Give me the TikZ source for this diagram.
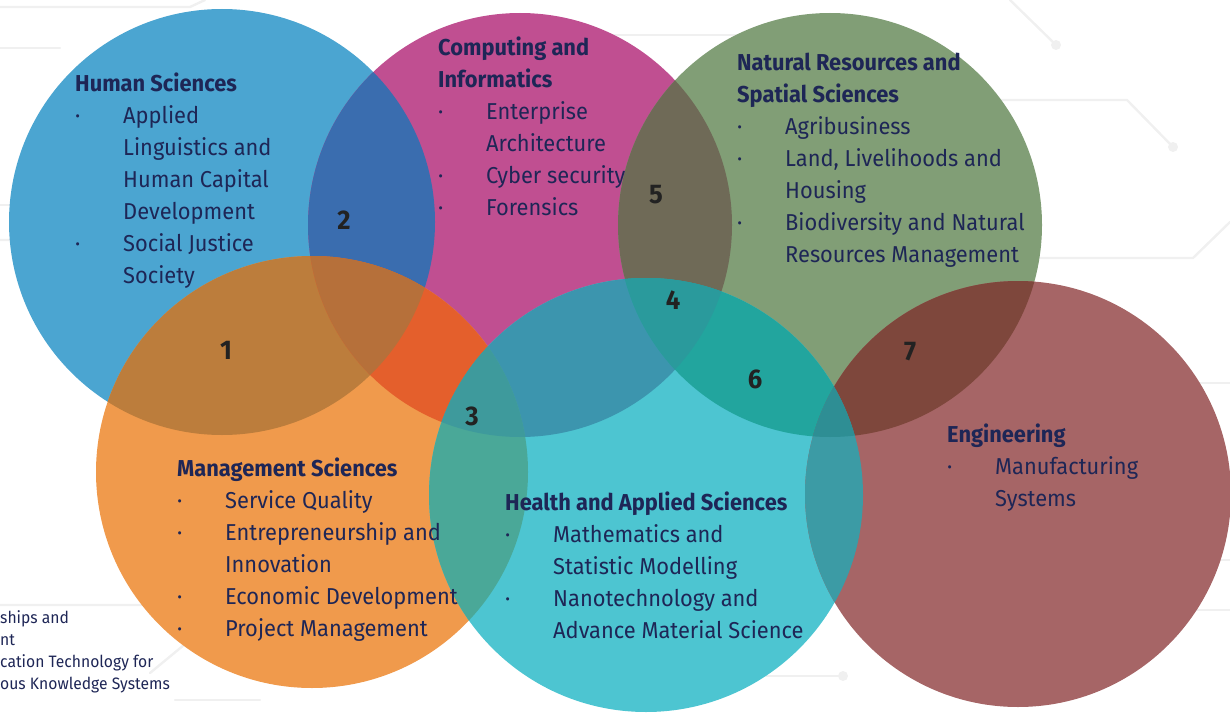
\documentclass[tikz,border=0pt]{standalone}
\usepackage{fontspec}
\setmainfont{Fira Sans}[FakeStretch=0.95]
\usetikzlibrary{positioning}
\definecolor{navy}{HTML}{1E2656}
\definecolor{numgray}{HTML}{222222}
\definecolor{traceg}{HTML}{F0F0F0}
% circle colours
\definecolor{cHum}{HTML}{4BA5D1}
\definecolor{cCom}{HTML}{C04F91}
\definecolor{cNat}{HTML}{819E76}
\definecolor{cMan}{HTML}{F09A4C}
\definecolor{cHea}{HTML}{4DC5D1}
\definecolor{cEng}{HTML}{A66566}
% overlaps
\definecolor{oHC}{HTML}{3A6DAF}
\definecolor{oHM}{HTML}{BC7D3C}
\definecolor{oCM}{HTML}{E45F2C}
\definecolor{oCN}{HTML}{6F6A57}
\definecolor{oCH}{HTML}{3C95AE}
\definecolor{oNH}{HTML}{22A59E}
\definecolor{oMH}{HTML}{4AA898}
\definecolor{oNE}{HTML}{7E473C}
\definecolor{oHE}{HTML}{3C9BA5}
\definecolor{oHCM}{HTML}{B6703A}
\definecolor{oCMH}{HTML}{3E9A9C}
\definecolor{oCNH}{HTML}{2A9A9C}
\definecolor{oNHE}{HTML}{2E8E94}

\def\vHum{(222,222) circle[radius=213]}
\def\vCom{(520,225) circle[radius=212]}
\def\vNat{(830,225) circle[radius=212]}
\def\vMan{(312,472) circle[radius=216]}
\def\vHea{(646,495) circle[radius=217]}
\def\vEng{(1018,494) circle[radius=213]}

\tikzset{
  faculty/.style={anchor=base west, inner sep=0pt, text=navy, font=\fontsize{23}{32}\selectfont},
  areanum/.style={inner sep=0pt, text=numgray, font=\fontsize{27}{27}\selectfont\bfseries},
  trace/.style={draw=traceg, line width=2.4pt, line cap=round},
  pad/.style={fill=traceg},
}
\newcommand{\unit}[2]{\begin{tabular}[t]{@{}p{48pt}@{}l@{}}\multicolumn{2}{@{}l@{}}{\bfseries #1}\\#2\end{tabular}}

\begin{document}
\begin{tikzpicture}[x=1pt, y=-1pt]
\useasboundingbox (0,0) rectangle (1230,714);

% faint circuit traces
\draw[trace] (0,7) -- (190,7) -- (205,0);
\draw[trace] (0,48) -- (60,48);
\draw[trace] (0,205) -- (250,205);
\draw[trace] (0,240) -- (20,240) -- (40,265) -- (260,265);
\draw[trace] (1010,0) -- (1056,45);
\fill[pad] (1056,45) circle[radius=5];
\draw[trace] (1000,100) -- (1127,100) -- (1173,147);
\fill[pad] (1173,147) circle[radius=5];
\draw[trace] (1040,258) -- (1193,258) -- (1230,222);
\draw[trace] (600,35) -- (760,35);
\draw[trace] (1130,383) -- (1230,383);
\draw[trace] (1180,560) -- (1230,560);
\draw[trace] (1150,610) -- (1230,610);
\draw[trace] (760,676) -- (843,676);
\fill[pad] (843,676) circle[radius=5];
\draw[trace] (0,605) -- (150,605) -- (180,580);
\draw[trace] (150,673) -- (190,640) -- (230,640);
\draw[trace] (175,700) -- (260,700);

% circles
\fill[cHum] \vHum;
\fill[cCom] \vCom;
\fill[cNat] \vNat;
\fill[cMan] \vMan;
\fill[cHea] \vHea;
\fill[cEng] \vEng;

% pairwise overlaps
\begin{scope}\clip \vHum; \fill[oHC] \vCom; \end{scope}
\begin{scope}\clip \vHum; \fill[oHM] \vMan; \end{scope}
\begin{scope}\clip \vCom; \fill[oCM] \vMan; \end{scope}
\begin{scope}\clip \vCom; \fill[oCN] \vNat; \end{scope}
\begin{scope}\clip \vCom; \fill[oCH] \vHea; \end{scope}
\begin{scope}\clip \vNat; \fill[oNH] \vHea; \end{scope}
\begin{scope}\clip \vMan; \fill[oMH] \vHea; \end{scope}
\begin{scope}\clip \vNat; \fill[oNE] \vEng; \end{scope}
\begin{scope}\clip \vHea; \fill[oHE] \vEng; \end{scope}

% triple overlaps
\begin{scope}\clip \vHum; \clip \vCom; \fill[oHCM] \vMan; \end{scope}
\begin{scope}\clip \vCom; \clip \vMan; \fill[oCMH] \vHea; \end{scope}
\begin{scope}\clip \vCom; \clip \vNat; \fill[oCNH] \vHea; \end{scope}
\begin{scope}\clip \vNat; \clip \vHea; \fill[oNHE] \vEng; \end{scope}

% faculties
\node[faculty] (hum) at (75,92) {\unit{Human Sciences}{%
  · & Applied\\ & Linguistics and\\ & Human Capital\\ & Development\\
  · & Social Justice\\ & Society}};
\node[faculty] (com) at (438,56) {\unit{Computing and}{%
  \multicolumn{2}{@{}l@{}}{\bfseries Informatics}\\
  · & Enterprise\\ & Architecture\\ · & Cyber security\\ · & Forensics}};
\node[faculty] (nat) at (737,71) {\unit{Natural Resources and}{%
  \multicolumn{2}{@{}l@{}}{\bfseries Spatial Sciences}\\
  · & Agribusiness\\ · & Land, Livelihoods and\\ & Housing\\
  · & Biodiversity and Natural\\ & Resources Management}};
\node[faculty] (man) at (177,476) {\unit{Management Sciences}{%
  · & Service Quality\\ · & Entrepreneurship and\\ & Innovation\\
  · & Economic Development\\ · & Project Management}};
\node[faculty] (hea) at (505,510) {\unit{Health and Applied Sciences}{%
  · & Mathematics and\\ & Statistic Modelling\\
  · & Nanotechnology and\\ & Advance Material Science}};
\node[faculty] (eng) at (947,442) {\unit{Engineering}{%
  · & Manufacturing\\ & Systems}};

% overlap numbers
\node[areanum] (n1) at (226,350) {1};
\node[areanum] (n2) at (344,220) {2};
\node[areanum] (n3) at (472,416) {3};
\node[areanum] (n4) at (673,300) {4};
\node[areanum] (n5) at (656,195) {5};
\node[areanum] (n6) at (755,379) {6};
\node[areanum] (n7) at (910,352) {7};

% cut-off text at the left
\node[anchor=base west, inner sep=0pt, text=navy, align=left,
  font=\fontsize{16.5}{22}\selectfont] (partners) at (0,689)
  {ships and\\nt\\cation Technology for\\ous Knowledge Systems};

\end{tikzpicture}
\end{document}
